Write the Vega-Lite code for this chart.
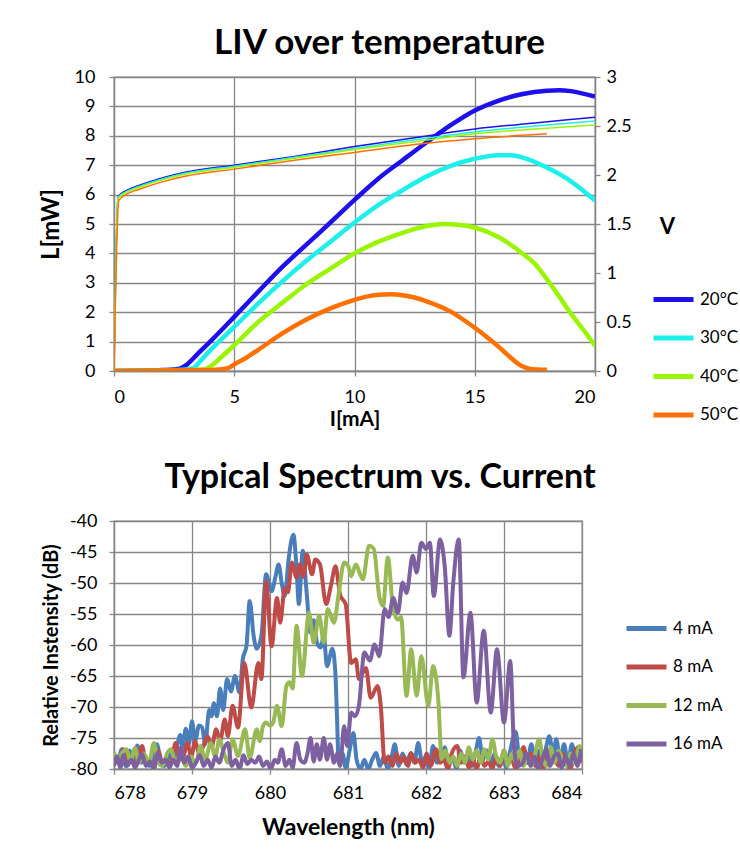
{
  "$schema": "https://vega.github.io/schema/vega-lite/v6.json",
  "background": "white",
  "padding": {"left": 38, "top": 25, "right": 0, "bottom": 0},
  "columns": 1,
  "align": "none",
  "spacing": 30,
  "resolve": {"scale": {"color": "independent"}},
  "config": {
    "font": "Lato",
    "view": {"stroke": "#868686", "strokeWidth": 1.3},
    "axis": {
      "labelFont": "Lato", "labelFontSize": 18, "labelColor": "#000000",
      "titleFont": "Lato", "titleFontWeight": "bold", "titleColor": "#000000",
      "gridColor": "#868686", "gridWidth": 1.3, "gridOpacity": 1,
      "domainColor": "#868686", "domainWidth": 1.3,
      "tickColor": "#868686", "tickSize": 5, "tickWidth": 1.3
    },
    "legend": {
      "symbolType": "stroke", "symbolSize": 1600, "symbolStrokeWidth": 5,
      "labelFont": "Lato", "labelFontSize": 17, "labelColor": "#000000",
      "rowPadding": 5.5, "labelOffset": 4, "padding": 0
    },
    "title": {"font": "Lato", "fontWeight": "bold", "color": "#000000", "anchor": "middle"}
  },
  "datasets": {
    "lcurve": [
      {"T": "20°C", "I": 0, "L": 0}, {"T": "20°C", "I": 1, "L": 0.01}, {"T": "20°C", "I": 2, "L": 0.03}, {"T": "20°C", "I": 2.5, "L": 0.05},
      {"T": "20°C", "I": 2.8, "L": 0.1}, {"T": "20°C", "I": 3.0, "L": 0.2}, {"T": "20°C", "I": 3.5, "L": 0.6}, {"T": "20°C", "I": 4, "L": 1.0},
      {"T": "20°C", "I": 5, "L": 1.84}, {"T": "20°C", "I": 6, "L": 2.7}, {"T": "20°C", "I": 7, "L": 3.54}, {"T": "20°C", "I": 8, "L": 4.3},
      {"T": "20°C", "I": 9, "L": 5.05}, {"T": "20°C", "I": 10, "L": 5.82}, {"T": "20°C", "I": 11, "L": 6.55}, {"T": "20°C", "I": 12, "L": 7.17},
      {"T": "20°C", "I": 13, "L": 7.78}, {"T": "20°C", "I": 14, "L": 8.36}, {"T": "20°C", "I": 15, "L": 8.86}, {"T": "20°C", "I": 16, "L": 9.2},
      {"T": "20°C", "I": 17, "L": 9.42}, {"T": "20°C", "I": 18, "L": 9.53}, {"T": "20°C", "I": 18.5, "L": 9.55}, {"T": "20°C", "I": 19, "L": 9.52},
      {"T": "20°C", "I": 20, "L": 9.33},
      {"T": "30°C", "I": 0, "L": 0}, {"T": "30°C", "I": 1, "L": 0.01}, {"T": "30°C", "I": 2, "L": 0.02}, {"T": "30°C", "I": 3, "L": 0.05},
      {"T": "30°C", "I": 3.3, "L": 0.1}, {"T": "30°C", "I": 3.6, "L": 0.35}, {"T": "30°C", "I": 4, "L": 0.7}, {"T": "30°C", "I": 5, "L": 1.5},
      {"T": "30°C", "I": 6, "L": 2.3}, {"T": "30°C", "I": 7, "L": 3.05}, {"T": "30°C", "I": 8, "L": 3.75}, {"T": "30°C", "I": 9, "L": 4.4},
      {"T": "30°C", "I": 10, "L": 5.05}, {"T": "30°C", "I": 11, "L": 5.65}, {"T": "30°C", "I": 12, "L": 6.15}, {"T": "30°C", "I": 13, "L": 6.62},
      {"T": "30°C", "I": 14, "L": 6.98}, {"T": "30°C", "I": 15, "L": 7.22}, {"T": "30°C", "I": 16, "L": 7.34}, {"T": "30°C", "I": 16.5, "L": 7.34},
      {"T": "30°C", "I": 17, "L": 7.26}, {"T": "30°C", "I": 18, "L": 6.92}, {"T": "30°C", "I": 19, "L": 6.45}, {"T": "30°C", "I": 20, "L": 5.8},
      {"T": "40°C", "I": 0, "L": 0}, {"T": "40°C", "I": 2, "L": 0.01}, {"T": "40°C", "I": 3, "L": 0.02}, {"T": "40°C", "I": 3.7, "L": 0.05},
      {"T": "40°C", "I": 4, "L": 0.15}, {"T": "40°C", "I": 4.5, "L": 0.5}, {"T": "40°C", "I": 5, "L": 0.88}, {"T": "40°C", "I": 6, "L": 1.67},
      {"T": "40°C", "I": 7, "L": 2.32}, {"T": "40°C", "I": 8, "L": 2.95}, {"T": "40°C", "I": 9, "L": 3.48}, {"T": "40°C", "I": 10, "L": 4.0},
      {"T": "40°C", "I": 11, "L": 4.4}, {"T": "40°C", "I": 12, "L": 4.7}, {"T": "40°C", "I": 13, "L": 4.93}, {"T": "40°C", "I": 13.7, "L": 5.0},
      {"T": "40°C", "I": 14, "L": 4.99}, {"T": "40°C", "I": 15, "L": 4.88}, {"T": "40°C", "I": 16, "L": 4.55}, {"T": "40°C", "I": 17, "L": 3.99},
      {"T": "40°C", "I": 17.5, "L": 3.65}, {"T": "40°C", "I": 18, "L": 3.12}, {"T": "40°C", "I": 18.5, "L": 2.55}, {"T": "40°C", "I": 19, "L": 1.95},
      {"T": "40°C", "I": 19.5, "L": 1.42}, {"T": "40°C", "I": 20, "L": 0.86},
      {"T": "50°C", "I": 0, "L": 0}, {"T": "50°C", "I": 2, "L": 0.02}, {"T": "50°C", "I": 4, "L": 0.03}, {"T": "50°C", "I": 4.5, "L": 0.06},
      {"T": "50°C", "I": 4.8, "L": 0.12}, {"T": "50°C", "I": 5, "L": 0.22}, {"T": "50°C", "I": 5.5, "L": 0.45}, {"T": "50°C", "I": 6, "L": 0.72},
      {"T": "50°C", "I": 7, "L": 1.28}, {"T": "50°C", "I": 8, "L": 1.75}, {"T": "50°C", "I": 9, "L": 2.13}, {"T": "50°C", "I": 10, "L": 2.42},
      {"T": "50°C", "I": 10.5, "L": 2.53}, {"T": "50°C", "I": 11, "L": 2.59}, {"T": "50°C", "I": 11.5, "L": 2.61}, {"T": "50°C", "I": 12, "L": 2.58},
      {"T": "50°C", "I": 12.5, "L": 2.5}, {"T": "50°C", "I": 13, "L": 2.37}, {"T": "50°C", "I": 14, "L": 2.02}, {"T": "50°C", "I": 15, "L": 1.47},
      {"T": "50°C", "I": 15.5, "L": 1.16}, {"T": "50°C", "I": 16, "L": 0.82}, {"T": "50°C", "I": 16.5, "L": 0.45}, {"T": "50°C", "I": 17, "L": 0.15},
      {"T": "50°C", "I": 17.3, "L": 0.07}, {"T": "50°C", "I": 17.6, "L": 0.05}, {"T": "50°C", "I": 18, "L": 0.04}
    ],
    "vcurve": [
      {"T": "20°C", "I": 0, "V": 0}, {"T": "20°C", "I": 0.17, "V": 1.78}, {"T": "20°C", "I": 0.5, "V": 1.84}, {"T": "20°C", "I": 1, "V": 1.89},
      {"T": "20°C", "I": 2, "V": 1.97}, {"T": "20°C", "I": 3, "V": 2.03}, {"T": "20°C", "I": 5, "V": 2.1}, {"T": "20°C", "I": 7.5, "V": 2.19},
      {"T": "20°C", "I": 10, "V": 2.29}, {"T": "20°C", "I": 12.5, "V": 2.38}, {"T": "20°C", "I": 15, "V": 2.47}, {"T": "20°C", "I": 17.5, "V": 2.53},
      {"T": "20°C", "I": 20, "V": 2.59},
      {"T": "30°C", "I": 0, "V": 0}, {"T": "30°C", "I": 0.17, "V": 1.77}, {"T": "30°C", "I": 0.5, "V": 1.83}, {"T": "30°C", "I": 1, "V": 1.88},
      {"T": "30°C", "I": 2, "V": 1.96}, {"T": "30°C", "I": 3, "V": 2.02}, {"T": "30°C", "I": 5, "V": 2.09}, {"T": "30°C", "I": 7.5, "V": 2.18},
      {"T": "30°C", "I": 10, "V": 2.27}, {"T": "30°C", "I": 12.5, "V": 2.36}, {"T": "30°C", "I": 15, "V": 2.44}, {"T": "30°C", "I": 17.5, "V": 2.5},
      {"T": "30°C", "I": 20, "V": 2.55},
      {"T": "40°C", "I": 0, "V": 0}, {"T": "40°C", "I": 0.17, "V": 1.76}, {"T": "40°C", "I": 0.5, "V": 1.82}, {"T": "40°C", "I": 1, "V": 1.87},
      {"T": "40°C", "I": 2, "V": 1.95}, {"T": "40°C", "I": 3, "V": 2.01}, {"T": "40°C", "I": 5, "V": 2.08}, {"T": "40°C", "I": 7.5, "V": 2.17},
      {"T": "40°C", "I": 10, "V": 2.26}, {"T": "40°C", "I": 12.5, "V": 2.34}, {"T": "40°C", "I": 15, "V": 2.42}, {"T": "40°C", "I": 17.5, "V": 2.47},
      {"T": "40°C", "I": 20, "V": 2.51},
      {"T": "50°C", "I": 0, "V": 0}, {"T": "50°C", "I": 0.2, "V": 1.74}, {"T": "50°C", "I": 0.5, "V": 1.8}, {"T": "50°C", "I": 1, "V": 1.85},
      {"T": "50°C", "I": 2, "V": 1.93}, {"T": "50°C", "I": 3, "V": 1.99}, {"T": "50°C", "I": 5, "V": 2.06}, {"T": "50°C", "I": 7.5, "V": 2.15},
      {"T": "50°C", "I": 10, "V": 2.23}, {"T": "50°C", "I": 12.5, "V": 2.31}, {"T": "50°C", "I": 15, "V": 2.37}, {"T": "50°C", "I": 18, "V": 2.42}
    ],
    "spectrum": [
      {"c": "4 mA", "w": 678.00, "db": -77.5}, {"c": "4 mA", "w": 678.05, "db": -79.0}, {"c": "4 mA", "w": 678.10, "db": -76.8}, {"c": "4 mA", "w": 678.15, "db": -79.5},
      {"c": "4 mA", "w": 678.20, "db": -77.0}, {"c": "4 mA", "w": 678.25, "db": -78.8}, {"c": "4 mA", "w": 678.30, "db": -76.2}, {"c": "4 mA", "w": 678.35, "db": -79.0},
      {"c": "4 mA", "w": 678.40, "db": -78.0}, {"c": "4 mA", "w": 678.45, "db": -79.5}, {"c": "4 mA", "w": 678.50, "db": -78.2}, {"c": "4 mA", "w": 678.55, "db": -76.0},
      {"c": "4 mA", "w": 678.60, "db": -78.8}, {"c": "4 mA", "w": 678.65, "db": -79.5}, {"c": "4 mA", "w": 678.70, "db": -77.5}, {"c": "4 mA", "w": 678.75, "db": -78.8},
      {"c": "4 mA", "w": 678.80, "db": -76.8}, {"c": "4 mA", "w": 678.85, "db": -74.5}, {"c": "4 mA", "w": 678.88, "db": -76.5}, {"c": "4 mA", "w": 678.92, "db": -73.5},
      {"c": "4 mA", "w": 678.96, "db": -76.0}, {"c": "4 mA", "w": 679.00, "db": -72.3}, {"c": "4 mA", "w": 679.04, "db": -75.5}, {"c": "4 mA", "w": 679.09, "db": -73.0},
      {"c": "4 mA", "w": 679.13, "db": -73.3}, {"c": "4 mA", "w": 679.17, "db": -76.0}, {"c": "4 mA", "w": 679.22, "db": -70.5}, {"c": "4 mA", "w": 679.25, "db": -71.5},
      {"c": "4 mA", "w": 679.28, "db": -69.4}, {"c": "4 mA", "w": 679.32, "db": -71.5}, {"c": "4 mA", "w": 679.36, "db": -67.0}, {"c": "4 mA", "w": 679.40, "db": -70.5},
      {"c": "4 mA", "w": 679.45, "db": -65.5}, {"c": "4 mA", "w": 679.50, "db": -67.5}, {"c": "4 mA", "w": 679.55, "db": -65.0}, {"c": "4 mA", "w": 679.61, "db": -67.7},
      {"c": "4 mA", "w": 679.65, "db": -62.4}, {"c": "4 mA", "w": 679.70, "db": -60.0}, {"c": "4 mA", "w": 679.74, "db": -52.9}, {"c": "4 mA", "w": 679.79, "db": -58.5},
      {"c": "4 mA", "w": 679.83, "db": -60.6}, {"c": "4 mA", "w": 679.89, "db": -58.5}, {"c": "4 mA", "w": 679.95, "db": -48.6}, {"c": "4 mA", "w": 680.02, "db": -51.3},
      {"c": "4 mA", "w": 680.07, "db": -49.0}, {"c": "4 mA", "w": 680.11, "db": -47.0}, {"c": "4 mA", "w": 680.15, "db": -50.0}, {"c": "4 mA", "w": 680.19, "db": -52.1},
      {"c": "4 mA", "w": 680.24, "db": -46.0}, {"c": "4 mA", "w": 680.30, "db": -42.2}, {"c": "4 mA", "w": 680.34, "db": -47.5}, {"c": "4 mA", "w": 680.37, "db": -53.4},
      {"c": "4 mA", "w": 680.42, "db": -44.8}, {"c": "4 mA", "w": 680.47, "db": -51.6}, {"c": "4 mA", "w": 680.52, "db": -58.0}, {"c": "4 mA", "w": 680.56, "db": -56.0},
      {"c": "4 mA", "w": 680.60, "db": -59.5}, {"c": "4 mA", "w": 680.65, "db": -60.4}, {"c": "4 mA", "w": 680.69, "db": -58.5}, {"c": "4 mA", "w": 680.73, "db": -63.4},
      {"c": "4 mA", "w": 680.80, "db": -60.6}, {"c": "4 mA", "w": 680.84, "db": -65.0}, {"c": "4 mA", "w": 680.86, "db": -72.0}, {"c": "4 mA", "w": 680.88, "db": -79.0},
      {"c": "4 mA", "w": 680.93, "db": -77.5}, {"c": "4 mA", "w": 680.97, "db": -79.8}, {"c": "4 mA", "w": 681.02, "db": -77.0}, {"c": "4 mA", "w": 681.07, "db": -74.2},
      {"c": "4 mA", "w": 681.11, "db": -78.5}, {"c": "4 mA", "w": 681.16, "db": -80.0}, {"c": "4 mA", "w": 681.21, "db": -78.5}, {"c": "4 mA", "w": 681.26, "db": -80.0},
      {"c": "4 mA", "w": 681.31, "db": -78.5}, {"c": "4 mA", "w": 681.36, "db": -77.4}, {"c": "4 mA", "w": 681.41, "db": -79.5}, {"c": "4 mA", "w": 681.46, "db": -78.0},
      {"c": "4 mA", "w": 681.51, "db": -80.0}, {"c": "4 mA", "w": 681.56, "db": -78.0}, {"c": "4 mA", "w": 681.60, "db": -76.0}, {"c": "4 mA", "w": 681.65, "db": -79.5},
      {"c": "4 mA", "w": 681.70, "db": -77.5}, {"c": "4 mA", "w": 681.75, "db": -79.3}, {"c": "4 mA", "w": 681.80, "db": -77.5}, {"c": "4 mA", "w": 681.85, "db": -79.0},
      {"c": "4 mA", "w": 681.90, "db": -75.8}, {"c": "4 mA", "w": 681.95, "db": -79.0}, {"c": "4 mA", "w": 682.00, "db": -78.0}, {"c": "4 mA", "w": 682.04, "db": -79.8},
      {"c": "4 mA", "w": 682.09, "db": -76.3}, {"c": "4 mA", "w": 682.14, "db": -79.0}, {"c": "4 mA", "w": 682.19, "db": -78.5}, {"c": "4 mA", "w": 682.24, "db": -76.5},
      {"c": "4 mA", "w": 682.29, "db": -79.5}, {"c": "4 mA", "w": 682.34, "db": -78.0}, {"c": "4 mA", "w": 682.39, "db": -80.0}, {"c": "4 mA", "w": 682.44, "db": -77.0},
      {"c": "4 mA", "w": 682.49, "db": -79.0}, {"c": "4 mA", "w": 682.54, "db": -78.0}, {"c": "4 mA", "w": 682.59, "db": -79.5}, {"c": "4 mA", "w": 682.64, "db": -77.0},
      {"c": "4 mA", "w": 682.68, "db": -75.0}, {"c": "4 mA", "w": 682.73, "db": -78.5}, {"c": "4 mA", "w": 682.78, "db": -77.0}, {"c": "4 mA", "w": 682.83, "db": -79.3},
      {"c": "4 mA", "w": 682.88, "db": -77.5}, {"c": "4 mA", "w": 682.93, "db": -79.5}, {"c": "4 mA", "w": 682.98, "db": -78.0}, {"c": "4 mA", "w": 683.03, "db": -79.8},
      {"c": "4 mA", "w": 683.08, "db": -77.0}, {"c": "4 mA", "w": 683.15, "db": -74.0}, {"c": "4 mA", "w": 683.20, "db": -78.5}, {"c": "4 mA", "w": 683.25, "db": -76.5},
      {"c": "4 mA", "w": 683.30, "db": -79.0}, {"c": "4 mA", "w": 683.35, "db": -76.0}, {"c": "4 mA", "w": 683.40, "db": -78.5}, {"c": "4 mA", "w": 683.45, "db": -77.0},
      {"c": "4 mA", "w": 683.50, "db": -79.0}, {"c": "4 mA", "w": 683.54, "db": -76.5}, {"c": "4 mA", "w": 683.58, "db": -74.7}, {"c": "4 mA", "w": 683.63, "db": -77.5},
      {"c": "4 mA", "w": 683.67, "db": -75.2}, {"c": "4 mA", "w": 683.72, "db": -78.5}, {"c": "4 mA", "w": 683.77, "db": -76.0}, {"c": "4 mA", "w": 683.82, "db": -79.0},
      {"c": "4 mA", "w": 683.87, "db": -76.0}, {"c": "4 mA", "w": 683.92, "db": -78.5}, {"c": "4 mA", "w": 683.96, "db": -77.0}, {"c": "4 mA", "w": 684.00, "db": -78.5},

      {"c": "8 mA", "w": 678.00, "db": -79.0}, {"c": "8 mA", "w": 678.05, "db": -78.0}, {"c": "8 mA", "w": 678.08, "db": -79.5}, {"c": "8 mA", "w": 678.12, "db": -76.8},
      {"c": "8 mA", "w": 678.17, "db": -79.0}, {"c": "8 mA", "w": 678.22, "db": -78.0}, {"c": "8 mA", "w": 678.27, "db": -79.5}, {"c": "8 mA", "w": 678.31, "db": -78.5},
      {"c": "8 mA", "w": 678.36, "db": -76.3}, {"c": "8 mA", "w": 678.41, "db": -79.0}, {"c": "8 mA", "w": 678.46, "db": -78.5}, {"c": "8 mA", "w": 678.51, "db": -79.8},
      {"c": "8 mA", "w": 678.57, "db": -77.1}, {"c": "8 mA", "w": 678.62, "db": -79.0}, {"c": "8 mA", "w": 678.67, "db": -78.5}, {"c": "8 mA", "w": 678.72, "db": -79.5},
      {"c": "8 mA", "w": 678.79, "db": -75.8}, {"c": "8 mA", "w": 678.84, "db": -78.5}, {"c": "8 mA", "w": 678.89, "db": -78.0}, {"c": "8 mA", "w": 678.94, "db": -75.8},
      {"c": "8 mA", "w": 678.99, "db": -78.0}, {"c": "8 mA", "w": 679.04, "db": -75.5}, {"c": "8 mA", "w": 679.09, "db": -77.5}, {"c": "8 mA", "w": 679.14, "db": -76.5},
      {"c": "8 mA", "w": 679.20, "db": -74.7}, {"c": "8 mA", "w": 679.25, "db": -76.5}, {"c": "8 mA", "w": 679.31, "db": -73.6}, {"c": "8 mA", "w": 679.36, "db": -75.5},
      {"c": "8 mA", "w": 679.42, "db": -72.0}, {"c": "8 mA", "w": 679.46, "db": -74.7}, {"c": "8 mA", "w": 679.52, "db": -69.8}, {"c": "8 mA", "w": 679.59, "db": -73.3},
      {"c": "8 mA", "w": 679.67, "db": -62.9}, {"c": "8 mA", "w": 679.76, "db": -70.1}, {"c": "8 mA", "w": 679.85, "db": -62.9}, {"c": "8 mA", "w": 679.89, "db": -65.5},
      {"c": "8 mA", "w": 679.95, "db": -49.7}, {"c": "8 mA", "w": 680.02, "db": -60.2}, {"c": "8 mA", "w": 680.09, "db": -52.4}, {"c": "8 mA", "w": 680.13, "db": -56.4},
      {"c": "8 mA", "w": 680.19, "db": -50.8}, {"c": "8 mA", "w": 680.23, "db": -51.5}, {"c": "8 mA", "w": 680.28, "db": -46.7}, {"c": "8 mA", "w": 680.34, "db": -49.1},
      {"c": "8 mA", "w": 680.38, "db": -47.0}, {"c": "8 mA", "w": 680.43, "db": -49.0}, {"c": "8 mA", "w": 680.47, "db": -45.4}, {"c": "8 mA", "w": 680.54, "db": -48.6},
      {"c": "8 mA", "w": 680.58, "db": -46.2}, {"c": "8 mA", "w": 680.64, "db": -47.0}, {"c": "8 mA", "w": 680.72, "db": -53.4}, {"c": "8 mA", "w": 680.78, "db": -50.5},
      {"c": "8 mA", "w": 680.84, "db": -47.3}, {"c": "8 mA", "w": 680.90, "db": -52.0}, {"c": "8 mA", "w": 680.97, "db": -53.4}, {"c": "8 mA", "w": 681.04, "db": -62.9},
      {"c": "8 mA", "w": 681.10, "db": -62.3}, {"c": "8 mA", "w": 681.14, "db": -65.5}, {"c": "8 mA", "w": 681.23, "db": -63.7}, {"c": "8 mA", "w": 681.29, "db": -68.5},
      {"c": "8 mA", "w": 681.38, "db": -66.6}, {"c": "8 mA", "w": 681.42, "db": -69.8}, {"c": "8 mA", "w": 681.47, "db": -79.0}, {"c": "8 mA", "w": 681.52, "db": -78.0},
      {"c": "8 mA", "w": 681.57, "db": -79.5}, {"c": "8 mA", "w": 681.62, "db": -77.5}, {"c": "8 mA", "w": 681.67, "db": -79.0}, {"c": "8 mA", "w": 681.72, "db": -78.0},
      {"c": "8 mA", "w": 681.77, "db": -79.5}, {"c": "8 mA", "w": 681.81, "db": -77.4}, {"c": "8 mA", "w": 681.86, "db": -79.0}, {"c": "8 mA", "w": 681.91, "db": -78.5},
      {"c": "8 mA", "w": 681.96, "db": -79.8}, {"c": "8 mA", "w": 682.01, "db": -77.5}, {"c": "8 mA", "w": 682.06, "db": -79.5}, {"c": "8 mA", "w": 682.13, "db": -76.8},
      {"c": "8 mA", "w": 682.18, "db": -79.0}, {"c": "8 mA", "w": 682.23, "db": -78.5}, {"c": "8 mA", "w": 682.28, "db": -80.0}, {"c": "8 mA", "w": 682.33, "db": -77.5},
      {"c": "8 mA", "w": 682.40, "db": -76.3}, {"c": "8 mA", "w": 682.45, "db": -79.0}, {"c": "8 mA", "w": 682.50, "db": -78.0}, {"c": "8 mA", "w": 682.55, "db": -79.8},
      {"c": "8 mA", "w": 682.60, "db": -78.5}, {"c": "8 mA", "w": 682.65, "db": -80.0}, {"c": "8 mA", "w": 682.70, "db": -78.0}, {"c": "8 mA", "w": 682.75, "db": -79.5},
      {"c": "8 mA", "w": 682.80, "db": -78.8}, {"c": "8 mA", "w": 682.85, "db": -80.0}, {"c": "8 mA", "w": 682.90, "db": -78.0}, {"c": "8 mA", "w": 682.95, "db": -79.5},
      {"c": "8 mA", "w": 683.00, "db": -77.0}, {"c": "8 mA", "w": 683.05, "db": -79.0}, {"c": "8 mA", "w": 683.10, "db": -78.5}, {"c": "8 mA", "w": 683.15, "db": -80.0},
      {"c": "8 mA", "w": 683.20, "db": -78.0}, {"c": "8 mA", "w": 683.25, "db": -76.5}, {"c": "8 mA", "w": 683.30, "db": -79.0}, {"c": "8 mA", "w": 683.35, "db": -77.5},
      {"c": "8 mA", "w": 683.40, "db": -79.5}, {"c": "8 mA", "w": 683.45, "db": -78.0}, {"c": "8 mA", "w": 683.50, "db": -80.0}, {"c": "8 mA", "w": 683.55, "db": -77.0},
      {"c": "8 mA", "w": 683.60, "db": -79.0}, {"c": "8 mA", "w": 683.65, "db": -78.5}, {"c": "8 mA", "w": 683.70, "db": -79.5}, {"c": "8 mA", "w": 683.75, "db": -77.5},
      {"c": "8 mA", "w": 683.80, "db": -79.0}, {"c": "8 mA", "w": 683.85, "db": -80.0}, {"c": "8 mA", "w": 683.90, "db": -77.5}, {"c": "8 mA", "w": 683.95, "db": -76.5},
      {"c": "8 mA", "w": 684.00, "db": -79.0},

      {"c": "12 mA", "w": 678.00, "db": -77.4}, {"c": "12 mA", "w": 678.05, "db": -78.5}, {"c": "12 mA", "w": 678.10, "db": -77.5}, {"c": "12 mA", "w": 678.16, "db": -76.8},
      {"c": "12 mA", "w": 678.21, "db": -78.8}, {"c": "12 mA", "w": 678.27, "db": -76.6}, {"c": "12 mA", "w": 678.32, "db": -79.0}, {"c": "12 mA", "w": 678.38, "db": -77.5},
      {"c": "12 mA", "w": 678.45, "db": -79.0}, {"c": "12 mA", "w": 678.51, "db": -75.8}, {"c": "12 mA", "w": 678.56, "db": -78.8}, {"c": "12 mA", "w": 678.62, "db": -79.5},
      {"c": "12 mA", "w": 678.68, "db": -77.5}, {"c": "12 mA", "w": 678.73, "db": -76.8}, {"c": "12 mA", "w": 678.79, "db": -79.0}, {"c": "12 mA", "w": 678.85, "db": -77.6},
      {"c": "12 mA", "w": 678.92, "db": -79.5}, {"c": "12 mA", "w": 678.98, "db": -78.0}, {"c": "12 mA", "w": 679.05, "db": -79.0}, {"c": "12 mA", "w": 679.11, "db": -76.3},
      {"c": "12 mA", "w": 679.17, "db": -78.5}, {"c": "12 mA", "w": 679.24, "db": -75.8}, {"c": "12 mA", "w": 679.30, "db": -78.0}, {"c": "12 mA", "w": 679.35, "db": -75.2},
      {"c": "12 mA", "w": 679.41, "db": -77.5}, {"c": "12 mA", "w": 679.46, "db": -79.0}, {"c": "12 mA", "w": 679.52, "db": -75.2}, {"c": "12 mA", "w": 679.59, "db": -77.9},
      {"c": "12 mA", "w": 679.68, "db": -73.6}, {"c": "12 mA", "w": 679.74, "db": -78.2}, {"c": "12 mA", "w": 679.83, "db": -73.6}, {"c": "12 mA", "w": 679.87, "db": -75.5},
      {"c": "12 mA", "w": 679.91, "db": -73.1}, {"c": "12 mA", "w": 679.95, "db": -72.5}, {"c": "12 mA", "w": 680.00, "db": -73.0}, {"c": "12 mA", "w": 680.04, "db": -72.5},
      {"c": "12 mA", "w": 680.09, "db": -69.8}, {"c": "12 mA", "w": 680.15, "db": -73.1}, {"c": "12 mA", "w": 680.21, "db": -66.6}, {"c": "12 mA", "w": 680.25, "db": -66.0},
      {"c": "12 mA", "w": 680.29, "db": -67.0}, {"c": "12 mA", "w": 680.34, "db": -56.9}, {"c": "12 mA", "w": 680.41, "db": -65.0}, {"c": "12 mA", "w": 680.50, "db": -54.8},
      {"c": "12 mA", "w": 680.56, "db": -59.6}, {"c": "12 mA", "w": 680.63, "db": -55.3}, {"c": "12 mA", "w": 680.69, "db": -59.6}, {"c": "12 mA", "w": 680.74, "db": -54.2},
      {"c": "12 mA", "w": 680.82, "db": -56.4}, {"c": "12 mA", "w": 680.88, "db": -51.8}, {"c": "12 mA", "w": 680.95, "db": -46.7}, {"c": "12 mA", "w": 681.01, "db": -47.5},
      {"c": "12 mA", "w": 681.04, "db": -48.9}, {"c": "12 mA", "w": 681.10, "db": -47.0}, {"c": "12 mA", "w": 681.19, "db": -49.4}, {"c": "12 mA", "w": 681.27, "db": -44.0},
      {"c": "12 mA", "w": 681.33, "db": -44.5}, {"c": "12 mA", "w": 681.40, "db": -52.1}, {"c": "12 mA", "w": 681.45, "db": -53.7}, {"c": "12 mA", "w": 681.51, "db": -45.9},
      {"c": "12 mA", "w": 681.58, "db": -54.2}, {"c": "12 mA", "w": 681.64, "db": -55.9}, {"c": "12 mA", "w": 681.68, "db": -55.5}, {"c": "12 mA", "w": 681.75, "db": -68.2},
      {"c": "12 mA", "w": 681.81, "db": -60.7}, {"c": "12 mA", "w": 681.88, "db": -68.2}, {"c": "12 mA", "w": 681.94, "db": -61.8}, {"c": "12 mA", "w": 682.03, "db": -69.8},
      {"c": "12 mA", "w": 682.09, "db": -63.4}, {"c": "12 mA", "w": 682.16, "db": -69.3}, {"c": "12 mA", "w": 682.20, "db": -78.4}, {"c": "12 mA", "w": 682.25, "db": -77.0},
      {"c": "12 mA", "w": 682.30, "db": -79.0}, {"c": "12 mA", "w": 682.35, "db": -78.0}, {"c": "12 mA", "w": 682.40, "db": -79.5}, {"c": "12 mA", "w": 682.45, "db": -77.5},
      {"c": "12 mA", "w": 682.50, "db": -79.0}, {"c": "12 mA", "w": 682.55, "db": -76.5}, {"c": "12 mA", "w": 682.60, "db": -78.5}, {"c": "12 mA", "w": 682.65, "db": -77.0},
      {"c": "12 mA", "w": 682.70, "db": -79.0}, {"c": "12 mA", "w": 682.75, "db": -76.8}, {"c": "12 mA", "w": 682.80, "db": -78.5}, {"c": "12 mA", "w": 682.85, "db": -75.2},
      {"c": "12 mA", "w": 682.90, "db": -78.0}, {"c": "12 mA", "w": 682.95, "db": -79.0}, {"c": "12 mA", "w": 683.00, "db": -77.0}, {"c": "12 mA", "w": 683.05, "db": -79.5},
      {"c": "12 mA", "w": 683.10, "db": -77.5}, {"c": "12 mA", "w": 683.15, "db": -78.8}, {"c": "12 mA", "w": 683.20, "db": -77.0}, {"c": "12 mA", "w": 683.25, "db": -79.5},
      {"c": "12 mA", "w": 683.30, "db": -78.0}, {"c": "12 mA", "w": 683.35, "db": -79.5}, {"c": "12 mA", "w": 683.40, "db": -77.5}, {"c": "12 mA", "w": 683.45, "db": -75.2},
      {"c": "12 mA", "w": 683.50, "db": -78.5}, {"c": "12 mA", "w": 683.55, "db": -79.5}, {"c": "12 mA", "w": 683.60, "db": -76.5}, {"c": "12 mA", "w": 683.65, "db": -79.0},
      {"c": "12 mA", "w": 683.70, "db": -77.0}, {"c": "12 mA", "w": 683.75, "db": -78.5}, {"c": "12 mA", "w": 683.80, "db": -79.5}, {"c": "12 mA", "w": 683.85, "db": -77.5},
      {"c": "12 mA", "w": 683.90, "db": -79.0}, {"c": "12 mA", "w": 683.97, "db": -76.3}, {"c": "12 mA", "w": 684.00, "db": -77.0},

      {"c": "16 mA", "w": 678.00, "db": -79.5}, {"c": "16 mA", "w": 678.04, "db": -78.0}, {"c": "16 mA", "w": 678.08, "db": -79.8}, {"c": "16 mA", "w": 678.12, "db": -77.8},
      {"c": "16 mA", "w": 678.17, "db": -79.5}, {"c": "16 mA", "w": 678.22, "db": -78.5}, {"c": "16 mA", "w": 678.27, "db": -79.8}, {"c": "16 mA", "w": 678.32, "db": -78.5},
      {"c": "16 mA", "w": 678.36, "db": -77.6}, {"c": "16 mA", "w": 678.41, "db": -79.5}, {"c": "16 mA", "w": 678.46, "db": -78.8}, {"c": "16 mA", "w": 678.51, "db": -80.0},
      {"c": "16 mA", "w": 678.56, "db": -77.4}, {"c": "16 mA", "w": 678.61, "db": -79.0}, {"c": "16 mA", "w": 678.66, "db": -78.5}, {"c": "16 mA", "w": 678.71, "db": -79.8},
      {"c": "16 mA", "w": 678.76, "db": -78.5}, {"c": "16 mA", "w": 678.81, "db": -79.5}, {"c": "16 mA", "w": 678.85, "db": -76.6}, {"c": "16 mA", "w": 678.90, "db": -79.0},
      {"c": "16 mA", "w": 678.95, "db": -78.0}, {"c": "16 mA", "w": 679.00, "db": -79.8}, {"c": "16 mA", "w": 679.05, "db": -79.0}, {"c": "16 mA", "w": 679.10, "db": -77.8},
      {"c": "16 mA", "w": 679.15, "db": -79.5}, {"c": "16 mA", "w": 679.20, "db": -78.5}, {"c": "16 mA", "w": 679.25, "db": -79.8}, {"c": "16 mA", "w": 679.30, "db": -78.0},
      {"c": "16 mA", "w": 679.35, "db": -79.0}, {"c": "16 mA", "w": 679.40, "db": -77.0}, {"c": "16 mA", "w": 679.46, "db": -75.8}, {"c": "16 mA", "w": 679.51, "db": -79.5},
      {"c": "16 mA", "w": 679.56, "db": -78.5}, {"c": "16 mA", "w": 679.61, "db": -80.0}, {"c": "16 mA", "w": 679.66, "db": -77.8}, {"c": "16 mA", "w": 679.71, "db": -79.2},
      {"c": "16 mA", "w": 679.76, "db": -78.5}, {"c": "16 mA", "w": 679.81, "db": -79.0}, {"c": "16 mA", "w": 679.86, "db": -78.0}, {"c": "16 mA", "w": 679.91, "db": -79.5},
      {"c": "16 mA", "w": 679.96, "db": -78.8}, {"c": "16 mA", "w": 680.01, "db": -80.0}, {"c": "16 mA", "w": 680.06, "db": -78.5}, {"c": "16 mA", "w": 680.10, "db": -79.0},
      {"c": "16 mA", "w": 680.15, "db": -76.8}, {"c": "16 mA", "w": 680.20, "db": -79.5}, {"c": "16 mA", "w": 680.25, "db": -78.5}, {"c": "16 mA", "w": 680.29, "db": -79.8},
      {"c": "16 mA", "w": 680.34, "db": -75.8}, {"c": "16 mA", "w": 680.39, "db": -78.5}, {"c": "16 mA", "w": 680.44, "db": -79.0}, {"c": "16 mA", "w": 680.48, "db": -77.5},
      {"c": "16 mA", "w": 680.52, "db": -75.0}, {"c": "16 mA", "w": 680.56, "db": -78.8}, {"c": "16 mA", "w": 680.60, "db": -76.0}, {"c": "16 mA", "w": 680.64, "db": -78.5},
      {"c": "16 mA", "w": 680.69, "db": -75.0}, {"c": "16 mA", "w": 680.73, "db": -78.5}, {"c": "16 mA", "w": 680.77, "db": -76.0}, {"c": "16 mA", "w": 680.82, "db": -79.0},
      {"c": "16 mA", "w": 680.86, "db": -77.5}, {"c": "16 mA", "w": 680.90, "db": -79.5}, {"c": "16 mA", "w": 680.95, "db": -73.1}, {"c": "16 mA", "w": 680.99, "db": -76.3},
      {"c": "16 mA", "w": 681.04, "db": -70.9}, {"c": "16 mA", "w": 681.09, "db": -71.5}, {"c": "16 mA", "w": 681.14, "db": -69.8}, {"c": "16 mA", "w": 681.21, "db": -61.2},
      {"c": "16 mA", "w": 681.28, "db": -62.5}, {"c": "16 mA", "w": 681.34, "db": -59.9}, {"c": "16 mA", "w": 681.40, "db": -61.8}, {"c": "16 mA", "w": 681.47, "db": -54.2},
      {"c": "16 mA", "w": 681.52, "db": -55.5}, {"c": "16 mA", "w": 681.58, "db": -52.4}, {"c": "16 mA", "w": 681.64, "db": -54.8}, {"c": "16 mA", "w": 681.70, "db": -49.9},
      {"c": "16 mA", "w": 681.75, "db": -51.6}, {"c": "16 mA", "w": 681.83, "db": -45.6}, {"c": "16 mA", "w": 681.88, "db": -48.3}, {"c": "16 mA", "w": 681.94, "db": -43.5},
      {"c": "16 mA", "w": 682.00, "db": -44.5}, {"c": "16 mA", "w": 682.05, "db": -43.5}, {"c": "16 mA", "w": 682.10, "db": -52.1}, {"c": "16 mA", "w": 682.18, "db": -43.0},
      {"c": "16 mA", "w": 682.24, "db": -47.3}, {"c": "16 mA", "w": 682.30, "db": -58.5}, {"c": "16 mA", "w": 682.35, "db": -49.9}, {"c": "16 mA", "w": 682.42, "db": -43.0},
      {"c": "16 mA", "w": 682.48, "db": -65.2}, {"c": "16 mA", "w": 682.57, "db": -54.8}, {"c": "16 mA", "w": 682.65, "db": -69.3}, {"c": "16 mA", "w": 682.74, "db": -57.7},
      {"c": "16 mA", "w": 682.83, "db": -70.9}, {"c": "16 mA", "w": 682.91, "db": -60.7}, {"c": "16 mA", "w": 683.00, "db": -72.5}, {"c": "16 mA", "w": 683.08, "db": -62.6},
      {"c": "16 mA", "w": 683.13, "db": -76.8}, {"c": "16 mA", "w": 683.18, "db": -79.5}, {"c": "16 mA", "w": 683.24, "db": -79.0}, {"c": "16 mA", "w": 683.29, "db": -77.5},
      {"c": "16 mA", "w": 683.34, "db": -79.5}, {"c": "16 mA", "w": 683.39, "db": -78.0}, {"c": "16 mA", "w": 683.44, "db": -80.0}, {"c": "16 mA", "w": 683.49, "db": -78.5},
      {"c": "16 mA", "w": 683.54, "db": -76.8}, {"c": "16 mA", "w": 683.59, "db": -79.5}, {"c": "16 mA", "w": 683.64, "db": -78.0}, {"c": "16 mA", "w": 683.69, "db": -77.5},
      {"c": "16 mA", "w": 683.74, "db": -79.8}, {"c": "16 mA", "w": 683.79, "db": -78.0}, {"c": "16 mA", "w": 683.84, "db": -79.5}, {"c": "16 mA", "w": 683.89, "db": -77.5},
      {"c": "16 mA", "w": 683.94, "db": -79.5}, {"c": "16 mA", "w": 683.99, "db": -76.8}
    ]
  },
  "concat": [
    {
      "width": 481,
      "height": 294,
      "title": {"text": "LIV over temperature", "fontSize": 35, "dx": 25, "offset": 7},
      "layer": [
        {
          "data": {"name": "lcurve"},
          "mark": {"type": "line", "strokeWidth": 4.5, "interpolate": "monotone", "clip": true},
          "encoding": {
            "x": {"field": "I", "type": "quantitative", "scale": {"domain": [0, 20], "nice": false},
                  "axis": {"values": [0, 5, 10, 15, 20], "title": "I[mA]", "titleFontSize": 21, "labelPadding": 12, "titlePadding": 2, "grid": true}},
            "y": {"field": "L", "type": "quantitative", "scale": {"domain": [0, 10], "nice": false},
                  "axis": {"values": [0, 1, 2, 3, 4, 5, 6, 7, 8, 9, 10], "title": "L[mW]", "titleFontSize": 24, "labelPadding": 14, "titlePadding": 11, "grid": true}},
            "color": {"field": "T", "type": "nominal",
                      "scale": {"domain": ["20°C", "30°C", "40°C", "50°C"], "range": ["#1E10EC", "#1CF0EA", "#99F500", "#FF7000"]},
                      "legend": {"title": null, "orient": "none", "legendX": 537, "legendY": 200}}
          }
        },
        {
          "data": {"name": "vcurve"},
          "mark": {"type": "line", "strokeWidth": 1.5, "interpolate": "monotone", "clip": true},
          "encoding": {
            "x": {"field": "I", "type": "quantitative",
                  "axis": {"values": [0, 5, 10, 15, 20], "title": "I[mA]", "titleFontSize": 21, "labelPadding": 12, "titlePadding": 2, "grid": true}},
            "y": {"field": "V", "type": "quantitative", "scale": {"domain": [0, 3], "nice": false},
                  "axis": {"orient": "right", "values": [0, 0.5, 1, 1.5, 2, 2.5, 3], "format": ".1~f", "grid": false, "labelPadding": 6,
                           "title": "V", "titleAngle": 0, "titleFontSize": 22, "titleX": 72, "titleY": 149, "titleAlign": "center", "titleBaseline": "middle"}},
            "color": {"field": "T", "type": "nominal"}
          }
        }
      ],
      "resolve": {"scale": {"y": "independent"}}
    },
    {
      "width": 468,
      "height": 248,
      "title": {"text": "Typical Spectrum vs. Current", "fontSize": 34, "dx": 32, "offset": 17},
      "data": {"name": "spectrum"},
      "mark": {"type": "line", "strokeWidth": 4, "interpolate": "monotone", "clip": true},
      "encoding": {
        "x": {"field": "w", "type": "quantitative", "scale": {"domain": [678, 684], "nice": false},
              "axis": {"values": [678, 679, 680, 681, 682, 683, 684], "format": "d", "title": "Wavelength (nm)", "titleFontSize": 23, "labelPadding": 10, "titlePadding": 14, "grid": true}},
        "y": {"field": "db", "type": "quantitative", "scale": {"domain": [-80, -40], "nice": false},
              "axis": {"values": [-80, -75, -70, -65, -60, -55, -50, -45, -40], "labelExpr": "'' + datum.value", "title": "Relative Instensity (dB)", "titleFontSize": 20, "labelPadding": 12, "titlePadding": 8, "grid": true}},
        "color": {"field": "c", "type": "nominal",
                  "scale": {"domain": ["4 mA", "8 mA", "12 mA", "16 mA"], "range": ["#4A7EBB", "#BE4B48", "#98B954", "#7D60A0"]},
                  "legend": {"title": null, "orient": "none", "legendX": 510, "legendY": 85}}
      }
    }
  ]
}
